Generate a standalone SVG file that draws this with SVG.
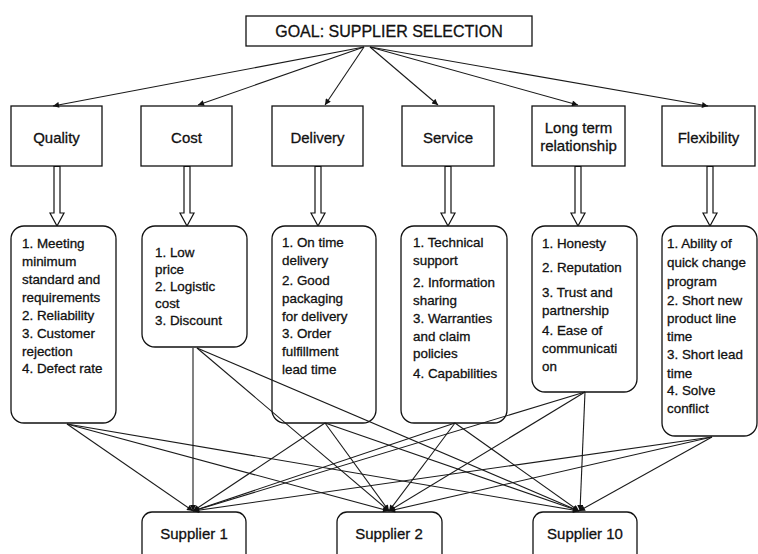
<svg xmlns="http://www.w3.org/2000/svg" width="758" height="554" viewBox="0 0 758 554">
  <style>
    .box { fill: #fff; stroke: #111; stroke-width: 1.3; }
    .hollow { fill: #fff; stroke: #111; stroke-width: 1.2; stroke-linejoin: miter; }
    .edge { stroke: #1a1a1a; stroke-width: 1.1; fill: none; }
    .t { font-family: "Liberation Sans", Arial, Helvetica, sans-serif; fill: #111; stroke: #111; stroke-width: 0.3; }
    .goal { font-size: 16px; text-anchor: middle; }
    .crit { font-size: 15px; text-anchor: middle; }
    .sub { font-size: 13.4px; }
    .sup { font-size: 15px; text-anchor: middle; }
  </style>
  <defs>
    <marker id="head" viewBox="0 0 10 10" refX="10" refY="5" markerWidth="8" markerHeight="6" markerUnits="userSpaceOnUse" orient="auto">
      <path d="M0,0 L10,5 L0,10 Z" fill="#111"/>
    </marker>
  </defs>

  <!-- goal -->
  <g id="goal">
    <rect class="box" x="246" y="16" width="286" height="30"/>
    <text class="t goal" x="389" y="36.5">GOAL: SUPPLIER SELECTION</text>
  </g>

  <!-- criteria -->
  <g id="quality">
    <rect class="box" x="11" y="106" width="91" height="60"/>
    <text class="t crit" x="56.5" y="142.5">Quality</text>
  </g>
  <g id="cost">
    <rect class="box" x="141" y="106" width="91" height="60"/>
    <text class="t crit" x="186.5" y="142.5">Cost</text>
  </g>
  <g id="delivery">
    <rect class="box" x="272" y="106" width="91" height="60"/>
    <text class="t crit" x="317.5" y="142.5">Delivery</text>
  </g>
  <g id="service">
    <rect class="box" x="402" y="106" width="92" height="60"/>
    <text class="t crit" x="448" y="142.5">Service</text>
  </g>
  <g id="long-term">
    <rect class="box" x="532" y="106" width="93" height="60"/>
    <text class="t crit" x="578.5" y="132.5">Long term</text>
    <text class="t crit" x="578.5" y="150.5">relationship</text>
  </g>
  <g id="flexibility">
    <rect class="box" x="662" y="106" width="93" height="60"/>
    <text class="t crit" x="708.5" y="142.5">Flexibility</text>
  </g>

  <!-- hollow arrows criteria -> sub-criteria -->
  <g id="hollow-arrows">
    <path class="hollow" d="M54,166.5 V213 H50 L57,226 L64,213 H60 V166.5 Z"/>
    <path class="hollow" d="M184,166.5 V213 H180 L187,226 L194,213 H190 V166.5 Z"/>
    <path class="hollow" d="M315,166.5 V213 H311 L318,226 L325,213 H321 V166.5 Z"/>
    <path class="hollow" d="M445,166.5 V213 H441 L448,226 L455,213 H451 V166.5 Z"/>
    <path class="hollow" d="M575,166.5 V213 H571 L578,226 L585,213 H581 V166.5 Z"/>
    <path class="hollow" d="M707,166.5 V213 H703 L710,226 L717,213 H713 V166.5 Z"/>
  </g>

  <!-- sub-criteria -->
  <g id="quality-sub">
    <rect class="box" x="11" y="226" width="105" height="197" rx="13"/>
    <text class="t sub" x="22">
      <tspan x="22" y="248">1. Meeting</tspan>
      <tspan x="22" y="266">minimum</tspan>
      <tspan x="22" y="284">standard and</tspan>
      <tspan x="22" y="302">requirements</tspan>
      <tspan x="22" y="320">2. Reliability</tspan>
      <tspan x="22" y="338">3. Customer</tspan>
      <tspan x="22" y="356">rejection</tspan>
      <tspan x="22" y="373">4. Defect rate</tspan>
    </text>
  </g>
  <g id="cost-sub">
    <rect class="box" x="142" y="226" width="105" height="121" rx="13"/>
    <text class="t sub">
      <tspan x="155" y="257">1. Low</tspan>
      <tspan x="155" y="274">price</tspan>
      <tspan x="155" y="291">2. Logistic</tspan>
      <tspan x="155" y="308">cost</tspan>
      <tspan x="155" y="325">3. Discount</tspan>
    </text>
  </g>
  <g id="delivery-sub">
    <rect class="box" x="272" y="226" width="104" height="197" rx="13"/>
    <text class="t sub">
      <tspan x="282" y="247">1. On time</tspan>
      <tspan x="282" y="265">delivery</tspan>
      <tspan x="282" y="285">2. Good</tspan>
      <tspan x="282" y="303">packaging</tspan>
      <tspan x="282" y="321">for delivery</tspan>
      <tspan x="282" y="338">3. Order</tspan>
      <tspan x="282" y="356">fulfillment</tspan>
      <tspan x="282" y="374">lead time</tspan>
    </text>
  </g>
  <g id="service-sub">
    <rect class="box" x="401" y="226" width="106" height="197" rx="13"/>
    <text class="t sub">
      <tspan x="413" y="247">1. Technical</tspan>
      <tspan x="413" y="265">support</tspan>
      <tspan x="413" y="287">2. Information</tspan>
      <tspan x="413" y="305">sharing</tspan>
      <tspan x="413" y="323">3. Warranties</tspan>
      <tspan x="413" y="341">and claim</tspan>
      <tspan x="413" y="358">policies</tspan>
      <tspan x="413" y="378">4. Capabilities</tspan>
    </text>
  </g>
  <g id="long-term-sub">
    <rect class="box" x="532" y="226" width="105" height="166" rx="13"/>
    <text class="t sub">
      <tspan x="542" y="248">1. Honesty</tspan>
      <tspan x="542" y="272">2. Reputation</tspan>
      <tspan x="542" y="297">3. Trust and</tspan>
      <tspan x="542" y="315">partnership</tspan>
      <tspan x="542" y="335">4. Ease of</tspan>
      <tspan x="542" y="353">communicati</tspan>
      <tspan x="542" y="371">on</tspan>
    </text>
  </g>
  <g id="flexibility-sub">
    <rect class="box" x="662" y="226" width="95" height="210" rx="13"/>
    <text class="t sub">
      <tspan x="667" y="248">1. Ability of</tspan>
      <tspan x="667" y="267">quick change</tspan>
      <tspan x="667" y="286">program</tspan>
      <tspan x="667" y="305">2. Short new</tspan>
      <tspan x="667" y="323">product line</tspan>
      <tspan x="667" y="341">time</tspan>
      <tspan x="667" y="359">3. Short lead</tspan>
      <tspan x="667" y="378">time</tspan>
      <tspan x="667" y="395">4. Solve</tspan>
      <tspan x="667" y="413">conflict</tspan>
    </text>
  </g>

  <!-- suppliers -->
  <g id="supplier-1">
    <rect class="box" x="142" y="512" width="104" height="60" rx="10"/>
    <text class="t sup" x="194" y="539">Supplier 1</text>
  </g>
  <g id="supplier-2">
    <rect class="box" x="337" y="512" width="105" height="60" rx="10"/>
    <text class="t sup" x="389" y="539">Supplier 2</text>
  </g>
  <g id="supplier-10">
    <rect class="box" x="533" y="512" width="104" height="60" rx="10"/>
    <text class="t sup" x="585" y="539">Supplier 10</text>
  </g>

  <!-- connectors -->
  <g id="connectors" class="edge" marker-end="url(#head)">
    <!-- goal to criteria -->
    <line x1="364" y1="47" x2="53" y2="106"/>
    <line x1="364" y1="47" x2="198" y2="105"/>
    <line x1="364" y1="47" x2="325" y2="105"/>
    <line x1="370" y1="47" x2="438" y2="105"/>
    <line x1="370" y1="47" x2="578" y2="105"/>
    <line x1="370" y1="47" x2="708" y2="106"/>
    <!-- sub-criteria to suppliers -->
    <line x1="67" y1="424" x2="193" y2="511"/>
    <line x1="67" y1="424" x2="389" y2="511"/>
    <line x1="67" y1="424" x2="579" y2="511"/>
    <line x1="193" y1="348" x2="193" y2="511"/>
    <line x1="197" y1="348" x2="389" y2="511"/>
    <line x1="197" y1="348" x2="579" y2="511"/>
    <line x1="325" y1="423" x2="193" y2="511"/>
    <line x1="325" y1="423" x2="389" y2="511"/>
    <line x1="325" y1="423" x2="579" y2="511"/>
    <line x1="455" y1="423" x2="193" y2="511"/>
    <line x1="455" y1="423" x2="389" y2="511"/>
    <line x1="455" y1="423" x2="579" y2="511"/>
    <line x1="585" y1="392" x2="193" y2="511"/>
    <line x1="585" y1="392" x2="389" y2="511"/>
    <line x1="585" y1="392" x2="580" y2="511"/>
    <line x1="712" y1="437" x2="193" y2="511"/>
    <line x1="712" y1="437" x2="389" y2="511"/>
    <line x1="712" y1="437" x2="579" y2="511"/>
  </g>
</svg>
